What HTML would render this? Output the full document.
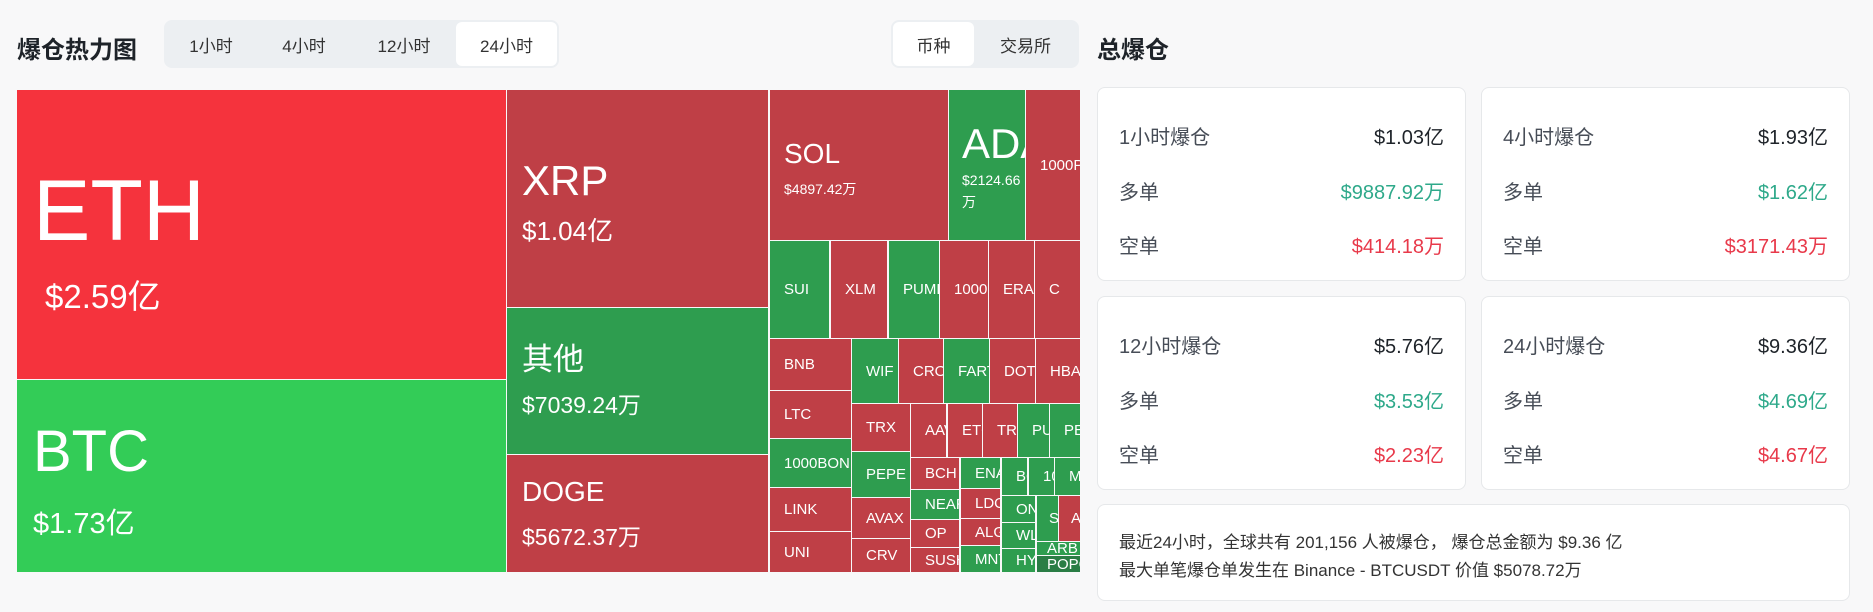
<!DOCTYPE html>
<html><head><meta charset="utf-8"><style>
*{margin:0;padding:0;box-sizing:border-box}
body{width:1873px;height:612px;background:#f8f8f9;font-family:"Liberation Sans","Noto Sans CJK SC",sans-serif;position:relative;overflow:hidden;color:#1e2329}
.a{position:absolute}
.t{position:absolute;overflow:hidden;color:#fff;display:flex;align-items:center;padding-left:14px;font-size:15px;white-space:nowrap}
.r{background:#bf3f46}.g{background:#2e9d4f}
.h1{position:absolute;font-size:24px;font-weight:bold;color:#1e2329}
.tabs{position:absolute;background:#eceff2;border-radius:8px;display:flex;align-items:center;padding:2px}
.tab{height:44px;display:flex;align-items:center;justify-content:center;font-size:17px;color:#333;border-radius:6px}
.tab.on{background:#fff}
.card{position:absolute;background:#fff;border:1px solid #e6e8ea;border-radius:8px}
.row{position:absolute;left:21px;right:21px;display:flex;justify-content:space-between;font-size:20px;color:#474d57}
.v{color:#1e2329}.up{color:#2ea98a}.dn{color:#e8394a}
</style></head><body>
<div class="h1" style="left:17px;top:30px">爆仓热力图</div>
<div class="tabs" style="left:164px;top:20px;width:395px;height:48px">
<div class="tab" style="width:90px">1小时</div><div class="tab" style="width:96px">4小时</div><div class="tab" style="width:104px">12小时</div><div class="tab on" style="width:101px">24小时</div></div>
<div class="tabs" style="left:891px;top:20px;width:188px;height:48px">
<div class="tab on" style="width:81px">币种</div><div class="tab" style="width:103px">交易所</div></div>
<div class="h1" style="left:1097px;top:30px">总爆仓</div>

<div class="a" style="left:17px;top:90px;width:489px;height:289px;background:#f5333d;color:#fff">
<div class="a" style="left:16px;top:78px;font-size:86px;line-height:1">ETH</div>
<div class="a" style="left:28px;top:190px;font-size:33px;line-height:1">$2.59亿</div></div>
<div class="a" style="left:17px;top:380px;width:489px;height:192px;background:#33cc57;color:#fff">
<div class="a" style="left:16px;top:43px;font-size:58px;line-height:1">BTC</div>
<div class="a" style="left:16px;top:130px;font-size:29px;line-height:1">$1.73亿</div></div>
<div class="a r" style="left:507px;top:90px;width:261px;height:217px;color:#fff">
<div class="a" style="left:15px;top:70px;font-size:42px;line-height:1">XRP</div>
<div class="a" style="left:15px;top:128px;font-size:26px;line-height:1">$1.04亿</div></div>
<div class="a g" style="left:507px;top:308px;width:261px;height:146px;color:#fff">
<div class="a" style="left:15px;top:36px;font-size:31px;line-height:1">其他</div>
<div class="a" style="left:15px;top:86px;font-size:23px;line-height:1">$7039.24万</div></div>
<div class="a r" style="left:507px;top:455px;width:261px;height:117px;color:#fff">
<div class="a" style="left:15px;top:23px;font-size:28px;line-height:1">DOGE</div>
<div class="a" style="left:15px;top:71px;font-size:23px;line-height:1">$5672.37万</div></div>

<div class="a r" style="left:770px;top:90px;width:178px;height:150px;color:#fff;overflow:hidden">
<div class="a" style="left:14px;top:50px;font-size:28px;line-height:1">SOL</div>
<div class="a" style="left:14px;top:92px;font-size:14px;line-height:1">$4897.42万</div></div>
<div class="a g" style="left:949px;top:90px;width:76px;height:150px;color:#fff;overflow:hidden;white-space:nowrap">
<div class="a" style="left:13px;top:33px;font-size:42px;line-height:1">ADA</div>
<div class="a" style="left:13px;top:83px;font-size:14px;line-height:1">$2124.66</div>
<div class="a" style="left:13px;top:105px;font-size:14px;line-height:1">万</div></div>
<div class="t r" style="left:1026px;top:90px;width:54px;height:150px;padding-left:14px">1000PEPE</div>

<div class="t g" style="left:770px;top:241px;width:59px;height:97px">SUI</div>
<div class="t r" style="left:831px;top:241px;width:56px;height:97px">XLM</div>
<div class="t g" style="left:889px;top:241px;width:50px;height:97px">PUMP</div>
<div class="t r" style="left:940px;top:241px;width:48px;height:97px">1000</div>
<div class="t r" style="left:989px;top:241px;width:45px;height:97px">ERA</div>
<div class="t r" style="left:1035px;top:241px;width:45px;height:97px">C</div>

<div class="t r" style="left:770px;top:339px;width:81px;height:51px">BNB</div>
<div class="t r" style="left:770px;top:391px;width:81px;height:47px">LTC</div>
<div class="t g" style="left:770px;top:439px;width:81px;height:48px">1000BONK</div>
<div class="t r" style="left:770px;top:488px;width:81px;height:43px">LINK</div>
<div class="t r" style="left:770px;top:532px;width:81px;height:40px">UNI</div>

<div class="t g" style="left:852px;top:339px;width:46px;height:64px">WIF</div>
<div class="t r" style="left:899px;top:339px;width:44px;height:64px">CRO</div>
<div class="t g" style="left:944px;top:339px;width:45px;height:64px">FART</div>
<div class="t r" style="left:990px;top:339px;width:45px;height:64px">DOT</div>
<div class="t r" style="left:1036px;top:339px;width:44px;height:64px">HBAR</div>

<div class="t r" style="left:852px;top:404px;width:58px;height:47px">TRX</div>
<div class="t g" style="left:852px;top:452px;width:58px;height:45px">PEPE</div>
<div class="t r" style="left:852px;top:498px;width:58px;height:40px">AVAX</div>
<div class="t r" style="left:852px;top:539px;width:58px;height:33px">CRV</div>

<div class="t r" style="left:911px;top:404px;width:35px;height:53px">AAVE</div>
<div class="t r" style="left:948px;top:404px;width:34px;height:53px">ETC</div>
<div class="t r" style="left:983px;top:404px;width:34px;height:53px">TRUMP</div>
<div class="t g" style="left:1018px;top:404px;width:31px;height:53px">PUMP</div>
<div class="t g" style="left:1050px;top:404px;width:30px;height:53px">PENGU</div>

<div class="t r" style="left:911px;top:458px;width:48px;height:31px">BCH</div>
<div class="t g" style="left:911px;top:490px;width:48px;height:29px">NEAR</div>
<div class="t r" style="left:911px;top:520px;width:48px;height:27px">OP</div>
<div class="t r" style="left:911px;top:548px;width:48px;height:24px">SUSHI</div>

<div class="t g" style="left:961px;top:458px;width:39px;height:30px">ENA</div>
<div class="t r" style="left:961px;top:489px;width:39px;height:29px">LDO</div>
<div class="t r" style="left:961px;top:519px;width:39px;height:26px">ALGO</div>
<div class="t g" style="left:961px;top:546px;width:39px;height:26px">MNT</div>

<div class="t g" style="left:1002px;top:458px;width:25px;height:37px">BCH</div>
<div class="t g" style="left:1029px;top:458px;width:25px;height:37px">1000</div>
<div class="t g" style="left:1055px;top:458px;width:25px;height:37px">M</div>
<div class="t g" style="left:1002px;top:496px;width:33px;height:26px">ONDO</div>
<div class="t g" style="left:1002px;top:523px;width:33px;height:25px">WLD</div>
<div class="t g" style="left:1002px;top:549px;width:33px;height:23px">HYPE</div>
<div class="t g" style="left:1037px;top:496px;width:21px;height:45px;padding-left:12px">S</div>
<div class="t r" style="left:1059px;top:496px;width:21px;height:45px;padding-left:12px">A</div>
<div class="t g" style="left:1037px;top:542px;width:43px;height:13px;padding-left:10px">ARB</div>
<div class="t" style="left:1037px;top:556px;width:43px;height:16px;padding-left:10px;background:#2a7d45">POPCAT</div>

<div class="card" style="left:1097px;top:87px;width:369px;height:194px">
<div class="row" style="top:33px"><span>1小时爆仓</span><span class="v">$1.03亿</span></div>
<div class="row" style="top:88px"><span>多单</span><span class="up">$9887.92万</span></div>
<div class="row" style="top:142px"><span>空单</span><span class="dn">$414.18万</span></div></div>
<div class="card" style="left:1481px;top:87px;width:369px;height:194px">
<div class="row" style="top:33px"><span>4小时爆仓</span><span class="v">$1.93亿</span></div>
<div class="row" style="top:88px"><span>多单</span><span class="up">$1.62亿</span></div>
<div class="row" style="top:142px"><span>空单</span><span class="dn">$3171.43万</span></div></div>
<div class="card" style="left:1097px;top:296px;width:369px;height:194px">
<div class="row" style="top:33px"><span>12小时爆仓</span><span class="v">$5.76亿</span></div>
<div class="row" style="top:88px"><span>多单</span><span class="up">$3.53亿</span></div>
<div class="row" style="top:142px"><span>空单</span><span class="dn">$2.23亿</span></div></div>
<div class="card" style="left:1481px;top:296px;width:369px;height:194px">
<div class="row" style="top:33px"><span>24小时爆仓</span><span class="v">$9.36亿</span></div>
<div class="row" style="top:88px"><span>多单</span><span class="up">$4.69亿</span></div>
<div class="row" style="top:142px"><span>空单</span><span class="dn">$4.67亿</span></div></div>
<div class="card" style="left:1097px;top:504px;width:753px;height:97px">
<div class="a" style="left:21px;top:24px;font-size:17px;color:#333;line-height:28px">最近24小时，全球共有 201,156 人被爆仓， 爆仓总金额为 $9.36 亿<br>最大单笔爆仓单发生在 Binance - BTCUSDT 价值 $5078.72万</div></div>
</body></html>
